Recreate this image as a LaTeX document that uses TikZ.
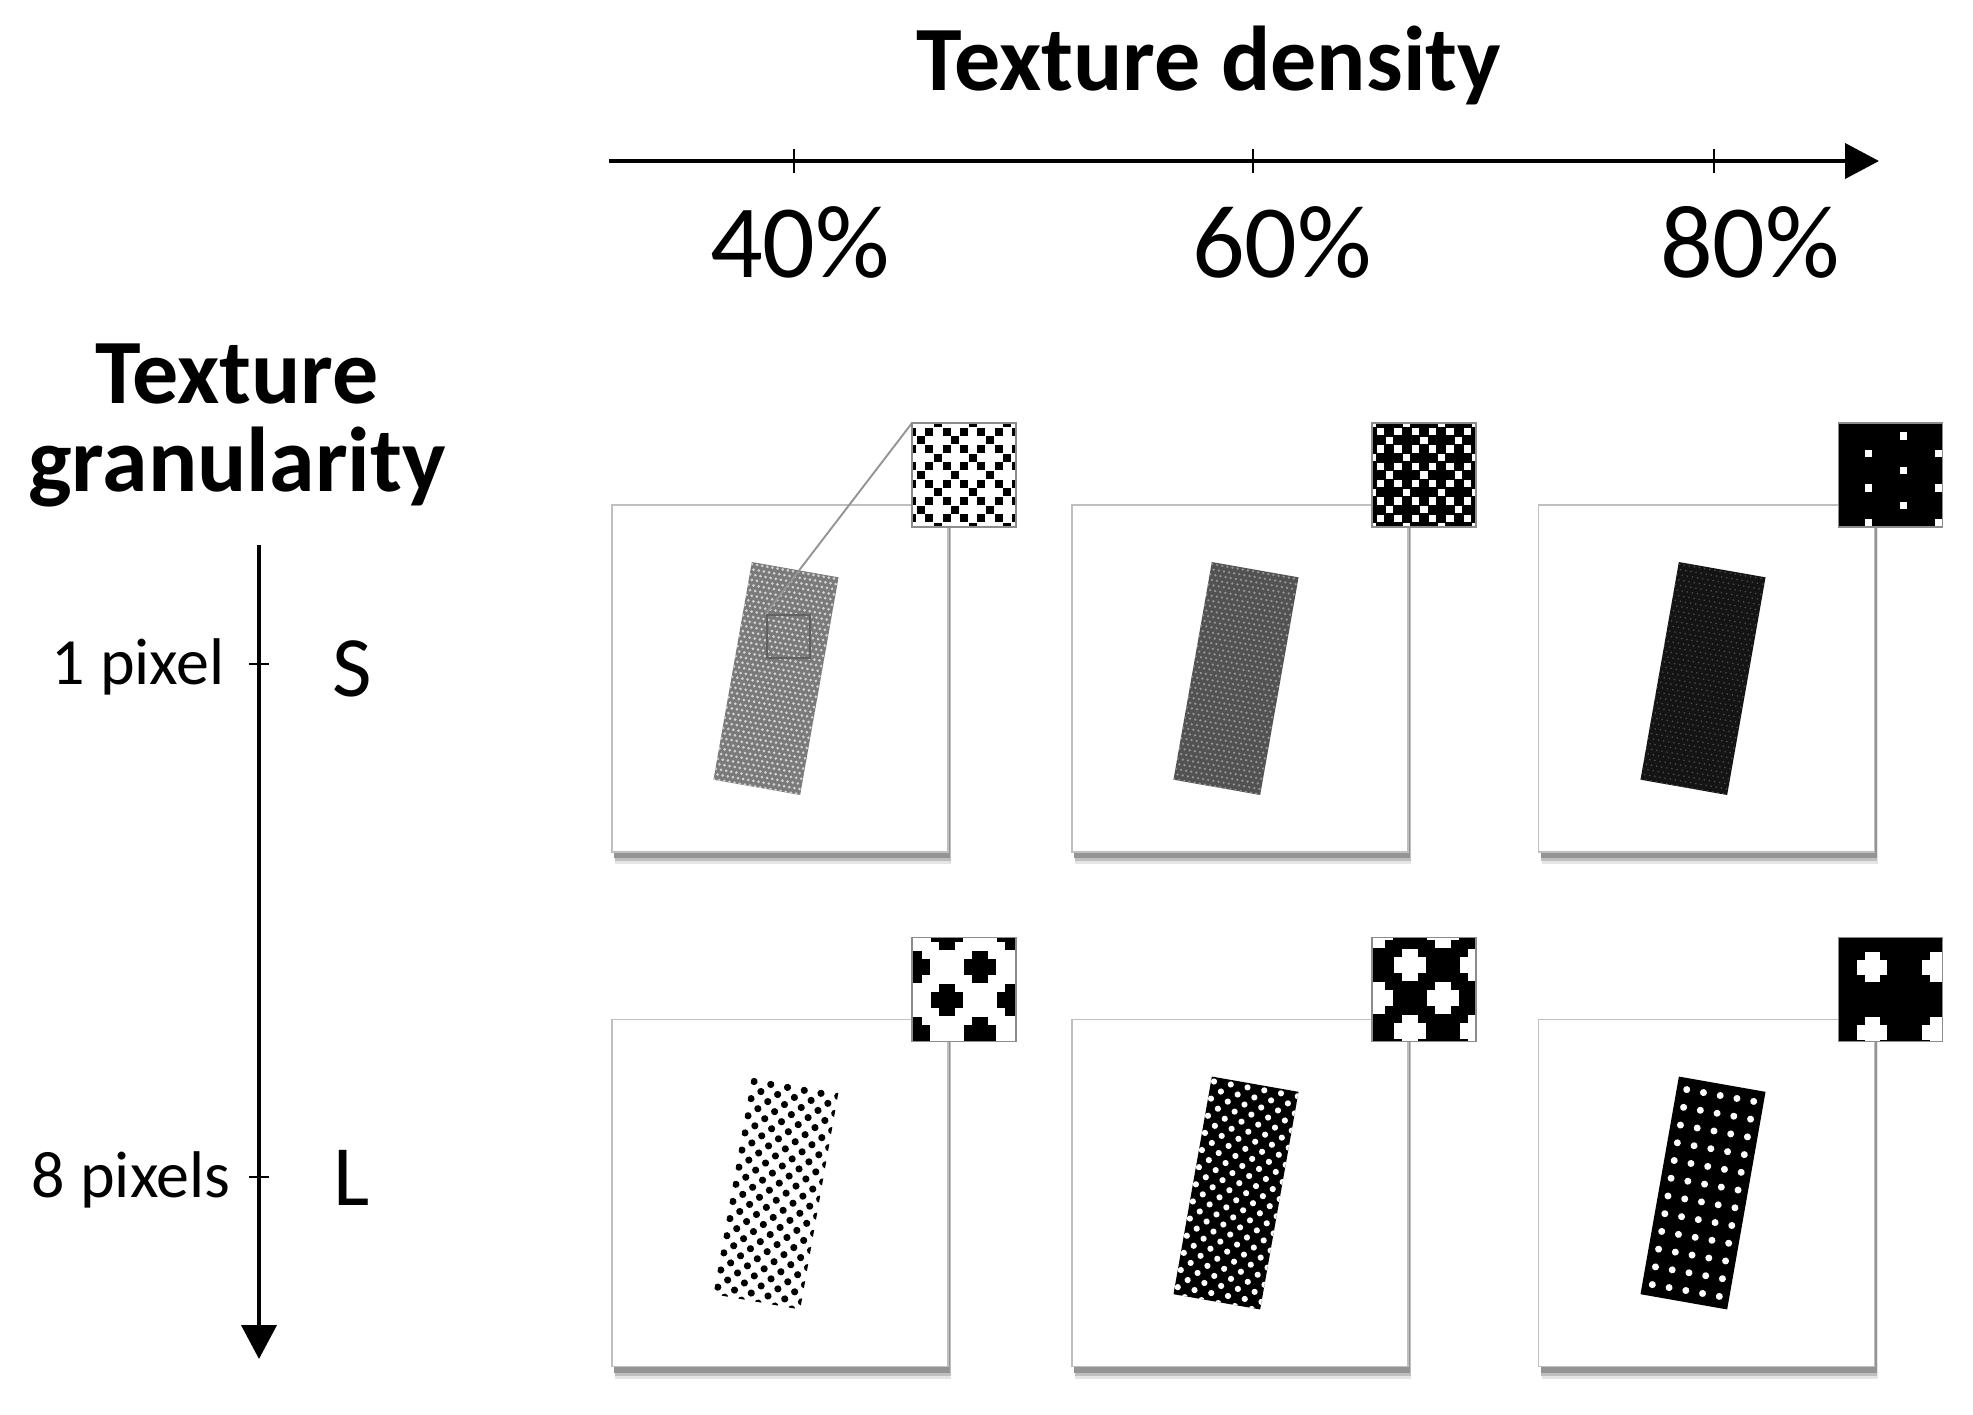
\documentclass[tikz,border=0pt]{standalone}
\usepackage{fontspec}
\setmainfont{Carlito}
\usetikzlibrary{arrows.meta,shadows}
\begin{document}
\begin{tikzpicture}[x=1pt,y=-1pt,
  boxframe/.style={draw=black!25, line width=1.6pt, fill=white, minimum width=336pt, minimum height=347pt, inner sep=0pt, outer sep=0pt,
     general shadow={fill=black!10, shadow xshift=3pt, shadow yshift=-12pt},
     general shadow={fill=black!25, shadow xshift=2.5pt, shadow yshift=-9pt},
     general shadow={fill=black!42, shadow xshift=2pt, shadow yshift=-6pt}},
  insetbox/.style={draw=black!45, line width=1.4pt, minimum width=104pt, minimum height=104pt, inner sep=0pt, outer sep=0pt, anchor=north west},
  stimrect/.style={minimum width=88pt, minimum height=221pt, inner sep=0pt, outer sep=0pt, rotate=-10},
  axisline/.style={line width=4pt, -{Triangle[length=34pt,width=35pt]}},
  tickmark/.style={line width=1.8pt},
  titletext/.style={font=\fontsize{92}{92}\selectfont\bfseries, anchor=base, inner sep=0pt},
  pct/.style={font=\fontsize{104}{104}\selectfont, anchor=base, inner sep=0pt},
  pxlabel/.style={font=\fontsize{66}{66}\selectfont, anchor=base east, inner sep=0pt},
  sizelabel/.style={font=\fontsize{86}{86}\selectfont, anchor=base, inner sep=0pt},
  magbox/.style={draw=black!62, line width=2.4pt, minimum size=43pt, inner sep=0pt},
  magline/.style={draw=black!42, line width=1.9pt},
]
\useasboundingbox (0,0) rectangle (1973,1414);
\fill[white] (0,0) rectangle (1973,1414);
\def\cs{8.6667}

% ---------- titles ----------
\node[titletext] (tdens) at (1209,90) {Texture density};
\node[titletext] (tgran1) at (237,403) {Texture};
\node[titletext] (tgran2) at (237,491) {granularity};

% ---------- density axis ----------
\coordinate (hs) at (609,161);
\coordinate (he) at (1879,161);
\draw[axisline] (hs) -- (he);
\foreach \x in {794,1253,1714} \draw[tickmark] (\x,149) -- (\x,173);
\node[pct] (p40) at (800,277) {40\%};
\node[pct] (p60) at (1282,277) {60\%};
\node[pct] (p80) at (1750,277) {80\%};

% ---------- granularity axis ----------
\coordinate (vs) at (259,545);
\coordinate (ve) at (259,1359);
\draw[axisline] (vs) -- (ve);
\foreach \y in {664,1177} \draw[tickmark] (249,\y) -- (269,\y);
\node[pxlabel] (g1) at (225,684) {1 pixel};
\node[pxlabel] (g8) at (231,1197) {8 pixels};
\node[sizelabel] (gs) at (352,696) {S};
\node[sizelabel] (gl) at (352,1205) {L};

% ---------- panel boxes ----------
\foreach \nm/\cx/\cy in {b11/780/678.5, b12/1240/678.5, b13/1706.5/678.5, b21/780/1193, b22/1240/1193, b23/1706.5/1193}
  \node[boxframe] (\nm) at (\cx,\cy) {};

% ---------- row 1 stimuli (fine texture) ----------
\node[stimrect, fill=black!52] (r11) at (776,678.5) {};
\begin{scope}[shift={(776,678.5)}, rotate=-10]
  \clip (-44,-110.5) rectangle (44,110.5);
  \foreach \j in {0,...,42} {
    \pgfmathsetmacro\off{mod(\j,2)*2.6}
    \foreach \i in {0,...,17}
      \fill[black!18] (-43.5+\off+5.2*\i, -108.5+5.2*\j) circle (1.5pt);
  }
\end{scope}
\node[stimrect, fill=black!68] (r12) at (1236,678.5) {};
\begin{scope}[shift={(1236,678.5)}, rotate=-10]
  \clip (-44,-110.5) rectangle (44,110.5);
  \foreach \j in {0,...,42} {
    \pgfmathsetmacro\off{mod(\j,2)*2.6}
    \foreach \i in {0,...,17}
      \fill[black!42] (-43.5+\off+5.2*\i, -108.5+5.2*\j) circle (1.3pt);
  }
\end{scope}
\node[stimrect, fill=black!92] (r13) at (1703,678.5) {};
\begin{scope}[shift={(1703,678.5)}, rotate=-10]
  \clip (-44,-110.5) rectangle (44,110.5);
  \foreach \j in {0,...,42} {
    \pgfmathsetmacro\off{mod(\j,2)*2.6}
    \foreach \i in {0,...,17}
      \fill[black!70] (-43.5+\off+5.2*\i, -108.5+5.2*\j) circle (0.9pt);
  }
\end{scope}

% magnifier
\node[magbox] (mag) at (788.5,636.5) {};
\coordinate (i11c) at (912,423);
\draw[magline] (mag.north west) -- (i11c);

% ---------- row 2 stimuli (coarse texture) ----------
\node[stimrect, fill=white] (r21) at (776,1193) {};
\begin{scope}[shift={(776,1193)}, rotate=-10]
  \clip (-44,-110.5) rectangle (44,110.5);
  \foreach \k in {0,...,25} {
    \pgfmathsetmacro\off{mod(\k,2)*8.5}
    \foreach \m in {0,...,5}
      \fill[black] (-41+\off+17*\m, -106+8.7*\k) circle (3.6pt);
  }
\end{scope}
\node[stimrect, fill=black] (r22) at (1236,1193) {};
\begin{scope}[shift={(1236,1193)}, rotate=-10]
  \clip (-44,-110.5) rectangle (44,110.5);
  \foreach \k in {0,...,25} {
    \pgfmathsetmacro\off{mod(\k,2)*8.5}
    \foreach \m in {0,...,5}
      \fill[white] (-41+\off+17*\m, -106+8.7*\k) circle (3.1pt);
  }
\end{scope}
\node[stimrect, fill=black] (r23) at (1703,1193) {};
\begin{scope}[shift={(1703,1193)}, rotate=-10]
  \clip (-44,-110.5) rectangle (44,110.5);
  \foreach \k in {0,...,11}
    \foreach \m in {0,...,4}
      \fill[white] (-34+17*\m, -99+18*\k) circle (3.5pt);
\end{scope}

% ---------- insets ----------
% 40% / 1 px
\begin{scope}[shift={(912,423)}]
  \clip (0,0) rectangle (104,104);
  \fill[white] (0,0) rectangle (104,104);
  \foreach \c in {-1,...,11} \foreach \r in {-1,...,11} {
    \pgfmathtruncatemacro\blk{or(or(and(equal(mod(\r+8,2),0),equal(mod(\c+8,2),1)),and(equal(mod(\r+8,4),1),equal(mod(\c+8,4),0))),and(equal(mod(\r+8,4),3),equal(mod(\c+8,4),2)))}
    \ifnum\blk=1 \fill[black] (\c*\cs+\cs-3.9, \r*\cs+\cs-3.9) rectangle ++(7.8,7.8); \fi
  }
\end{scope}
\node[insetbox] (i11) at (i11c) {};

% 60% / 1 px
\begin{scope}[shift={(1372,423)}]
  \clip (0,0) rectangle (104,104);
  \fill[black] (0,0) rectangle (104,104);
  \foreach \c in {-1,...,11} \foreach \r in {-1,...,11} {
    \pgfmathtruncatemacro\blk{or(or(and(equal(mod(\r+8,2),0),equal(mod(\c+7,2),1)),and(equal(mod(\r+8,4),1),equal(mod(\c+7,4),0))),and(equal(mod(\r+8,4),3),equal(mod(\c+7,4),2)))}
    \ifnum\blk=1 \fill[white] (\c*\cs+\cs-3.6, \r*\cs+\cs-3.6) rectangle ++(7.2,7.2); \fi
  }
\end{scope}
\node[insetbox] (i12) at (1372,423) {};

% 80% / 1 px
\begin{scope}[shift={(1838.5,423)}]
  \clip (0,0) rectangle (104,104);
  \fill[black] (0,0) rectangle (104,104);
  \foreach \c in {0,...,11} \foreach \r in {0,...,11} {
    \pgfmathtruncatemacro\blk{or(and(equal(mod(\c,8),3),equal(mod(\r,4),3)),and(equal(mod(\c,8),7),equal(mod(\r,4),1)))}
    \ifnum\blk=1 \fill[white] (\c*\cs+0.5*\cs-3.6, \r*\cs+0.5*\cs-3.6) rectangle ++(7.2,7.2); \fi
  }
\end{scope}
\node[insetbox] (i13) at (1838.5,423) {};

% 40% / 8 px
\begin{scope}[shift={(912,937.5)}]
  \clip (0,0) rectangle (104,104);
  \fill[white] (0,0) rectangle (104,104);
  \foreach \i in {0,...,3} \foreach \j in {-1,...,3} {
    \pgfmathtruncatemacro\ev{equal(mod(\i+\j+8,2),0)}
    \ifnum\ev=1
      \fill[black] (2+33*\i-16, 29.5+33*\j-8) rectangle ++(32,16);
      \fill[black] (2+33*\i-8, 29.5+33*\j-16) rectangle ++(16,32);
    \fi
  }
\end{scope}
\node[insetbox] (i21) at (912,937.5) {};

% 60% / 8 px
\begin{scope}[shift={(1372,937.5)}]
  \clip (0,0) rectangle (104,104);
  \fill[black] (0,0) rectangle (104,104);
  \foreach \i in {0,...,3} \foreach \j in {0,...,3} {
    \pgfmathtruncatemacro\ev{equal(mod(\i+\j,2),0)}
    \ifnum\ev=1
      \fill[white] (5+33*\i-16, -5.5+33*\j-8) rectangle ++(32,16);
      \fill[white] (5+33*\i-8, -5.5+33*\j-16) rectangle ++(16,32);
    \fi
  }
\end{scope}
\node[insetbox] (i22) at (1372,937.5) {};

% 80% / 8 px
\begin{scope}[shift={(1838.5,937.5)}]
  \clip (0,0) rectangle (104,104);
  \fill[black] (0,0) rectangle (104,104);
  \foreach \i in {0,1} \foreach \j in {0,1} {
    \fill[white] (33.5+65*\i-15, 29.5+65*\j-7.5) rectangle ++(30,15);
    \fill[white] (33.5+65*\i-7.5, 29.5+65*\j-15) rectangle ++(15,30);
  }
\end{scope}
\node[insetbox] (i23) at (1838.5,937.5) {};

\end{tikzpicture}
\end{document}
